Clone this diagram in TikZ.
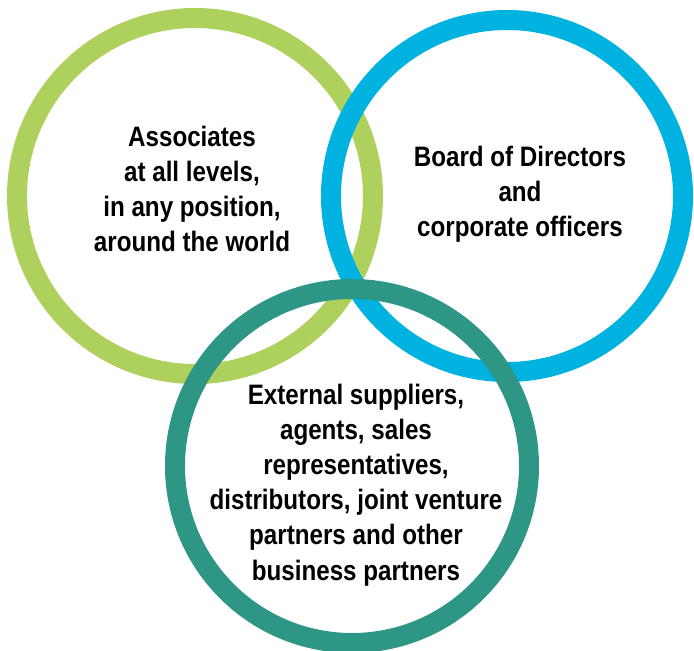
\documentclass[tikz,border=0pt]{standalone}
\usepackage{fontspec}
\setmainfont{Liberation Sans}[FakeStretch=0.86]
\usepackage{tikz}

\definecolor{ringgreen}{RGB}{174,208,92}
\definecolor{ringblue}{RGB}{0,178,224}
\definecolor{ringteal}{RGB}{46,150,133}

\tikzset{
    ring/.style={line width=0.4cm},
    label/.style={align=center, font=\fontsize{16}{20}\selectfont\bfseries, inner sep=0pt}
}

\begin{document}
\begin{tikzpicture}[x=0.02cm, y=-0.02cm]
    \useasboundingbox (0,0) rectangle (694,650);
    % rings, teal one last so it lies on top
    \draw [ring, ringgreen] (195,196) circle (178);
    \draw [ring, ringblue] (507,196) circle (176);
    \draw [ring, ringteal] (352,466) circle (177);
    % texts
    \node [label] (staff) at (192,189) {Associates\\at all levels,\\in any position,\\around the world};
    \node [label] (board) at (520,194) {Board of Directors\\and\\corporate officers};
    \node [label] (partners) at (356,485) {External suppliers,\\agents, sales\\representatives,\\distributors, joint venture\\partners and other\\business partners};
\end{tikzpicture}
\end{document}
